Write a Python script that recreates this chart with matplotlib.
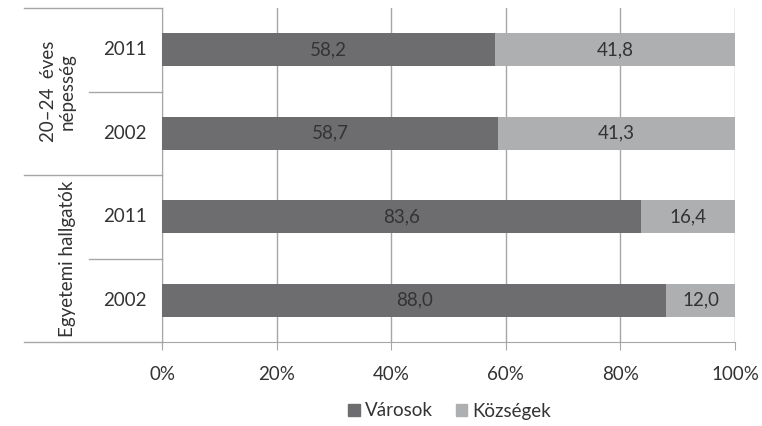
import matplotlib.pyplot as plt
from matplotlib.lines import Line2D
from matplotlib.patches import Patch

plt.rcParams['font.family'] = ['Lato', 'DejaVu Sans']

groups = ['20–24  éves\nnépesség', 'Egyetemi hallgatók']
years = ['2011', '2002', '2011', '2002']
varosok = [58.2, 58.7, 83.6, 88.0]
kozsegek = [41.8, 41.3, 16.4, 12.0]

dark = '#6d6d6f'
light = '#aeafb1'
txt = '#333333'
grid = '#a6a6a6'
fs = 13.5

fig = plt.figure(figsize=(7.62, 4.26), dpi=100)
ax = fig.add_axes([162 / 762, 1 - 342 / 426, (735 - 162) / 762, (342 - 8) / 426])

ypos = [3, 2, 1, 0]
ax.barh(ypos, varosok, height=0.4, color=dark, label='Városok', zorder=3)
ax.barh(ypos, kozsegek, left=varosok, height=0.4, color=light, label='Községek', zorder=3)

for y, v, k in zip(ypos, varosok, kozsegek):
    ax.text(v / 2, y, f'{v:.1f}'.replace('.', ','), ha='center', va='center',
            fontsize=fs, color=txt, zorder=4)
    ax.text(v + k / 2, y, f'{k:.1f}'.replace('.', ','), ha='center', va='center',
            fontsize=fs, color=txt, zorder=4)

ax.set_xlim(0, 100)
ax.set_ylim(-0.5, 3.5)
ax.set_xticks(range(0, 101, 20))
ax.set_xticklabels([f'{t}%' for t in range(0, 101, 20)], fontsize=fs, color=txt)
ax.tick_params(axis='x', length=6, color=grid, pad=11)
ax.set_yticks([])
ax.grid(axis='x', color=grid, linewidth=1, zorder=0)
for s in ['top', 'right']:
    ax.spines[s].set_visible(False)
ax.spines['left'].set_color(grid)
ax.spines['bottom'].set_color(grid)
ax.spines['left'].set_bounds(-0.55, 3.5)

# category labels on the left
tr = ax.get_yaxis_transform()
for y, lab in zip(ypos, years):
    ax.text(-0.064, y, lab, transform=tr, ha='center', va='center', fontsize=fs, color=txt)
for yb in [3.5, 1.5, -0.5]:
    ax.add_line(Line2D([-0.24, 0], [yb, yb], transform=tr, color=grid, lw=1, clip_on=False))
for yb in [2.5, 0.5]:
    ax.add_line(Line2D([-0.127, 0], [yb, yb], transform=tr, color=grid, lw=1, clip_on=False))
ax.text(-0.182, 2.5, groups[0], transform=tr, rotation=90, ha='center', va='center',
        fontsize=fs, color=txt, linespacing=1.15)
ax.text(-0.165, 0.5, groups[1], transform=tr, rotation=90, ha='center', va='center',
        fontsize=fs, color=txt)

handles = [Patch(color=dark, label='Városok'), Patch(color=light, label='Községek')]
fig.legend(handles=handles, loc='center', bbox_to_anchor=(450 / 762, 1 - 411 / 426), ncol=2,
           frameon=False, fontsize=fs, handlelength=0.6, handleheight=0.6,
           handletextpad=0.3, columnspacing=1.2, labelcolor=txt)

fig.savefig('out.png', dpi=100)
